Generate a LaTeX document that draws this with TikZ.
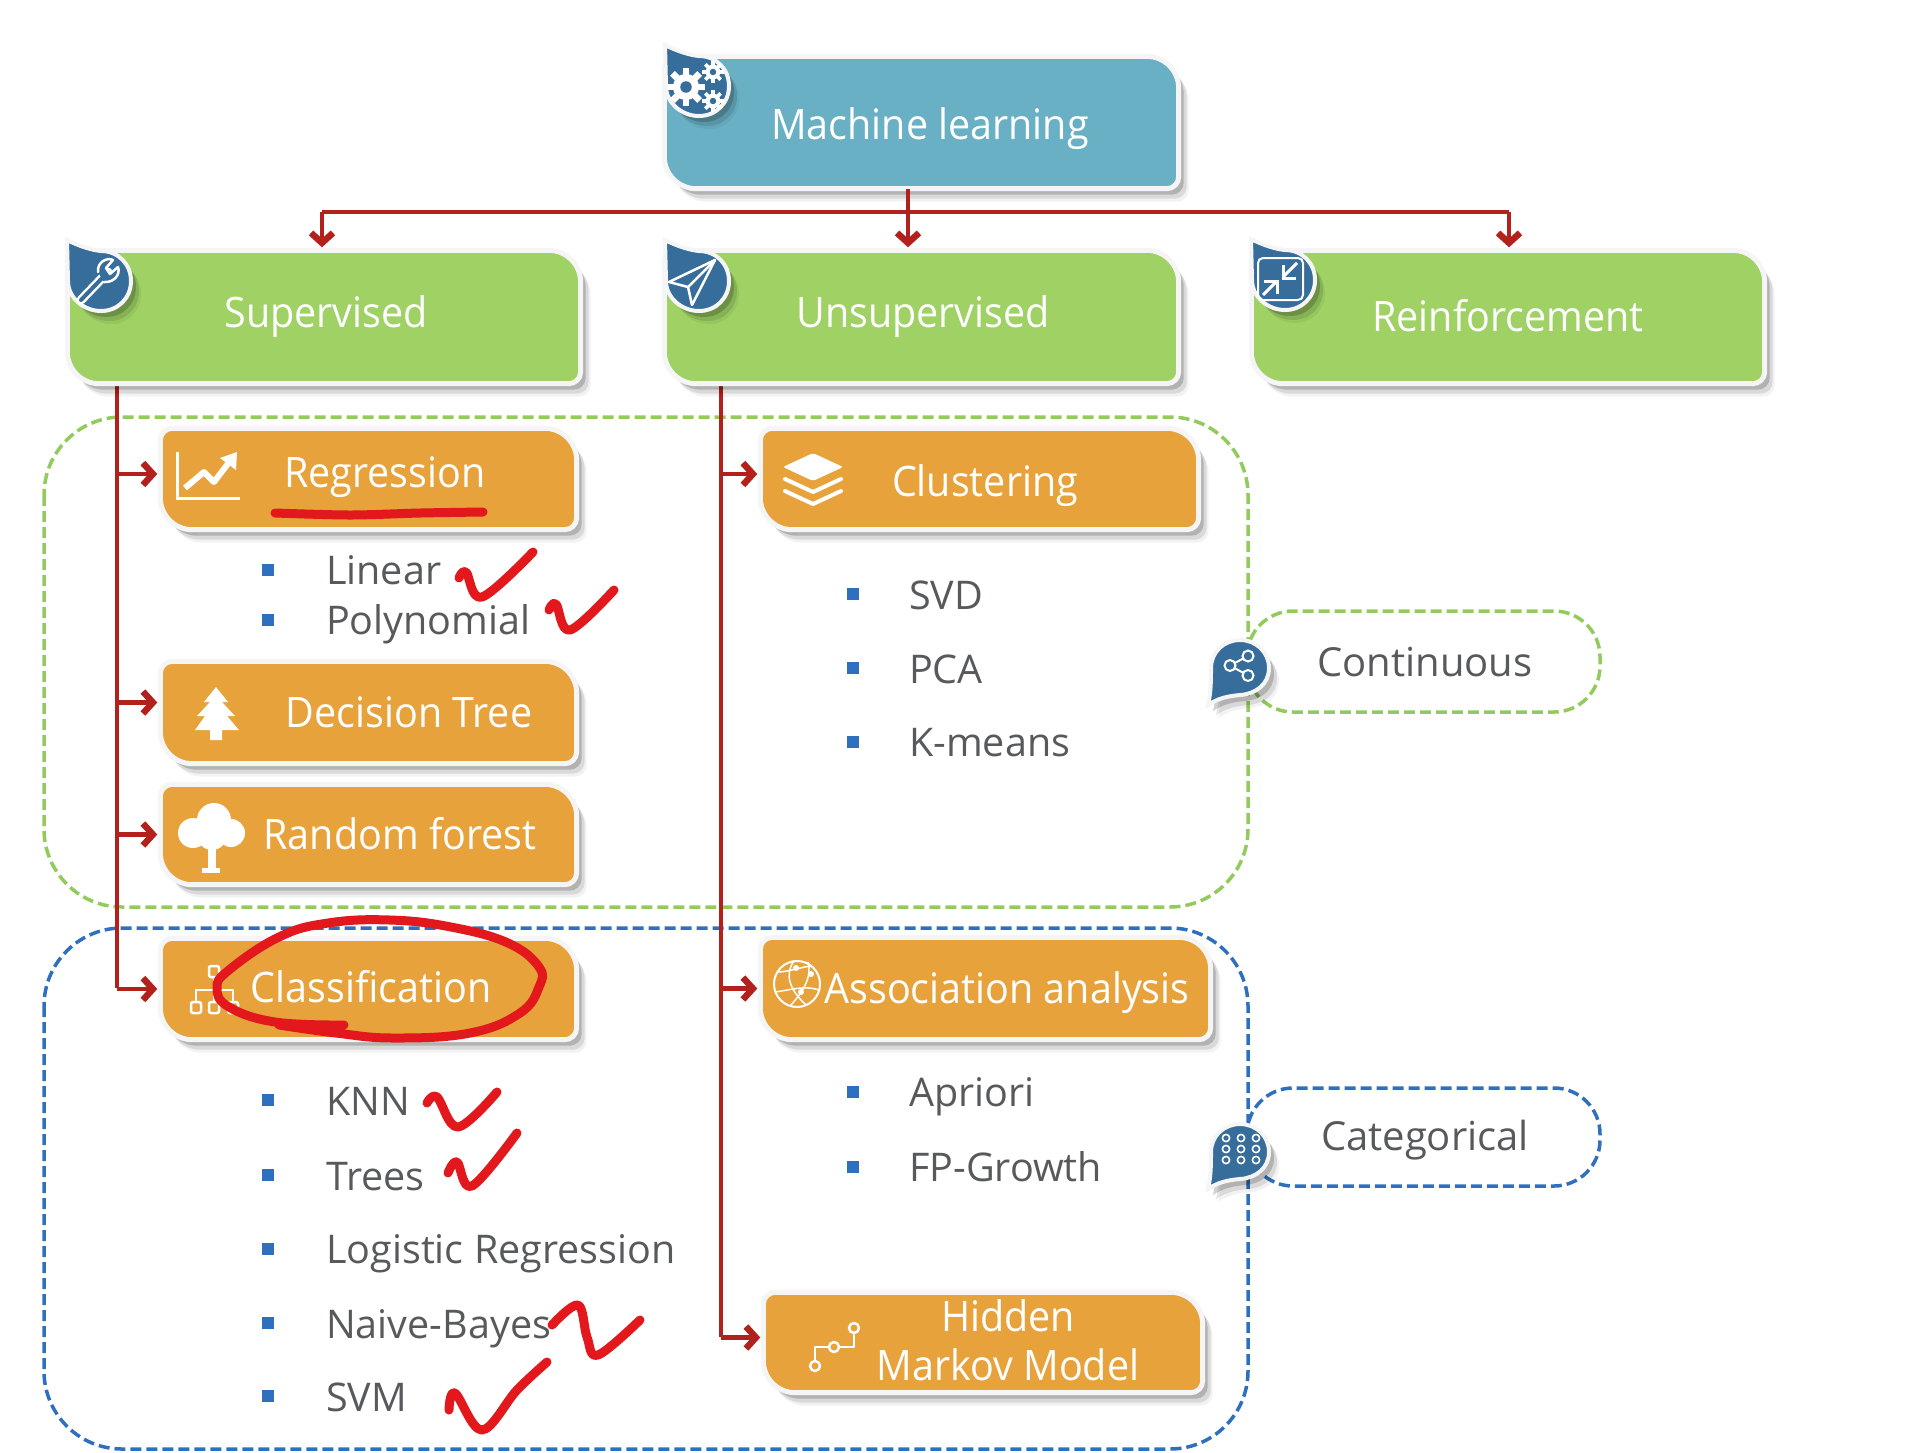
\documentclass[tikz,border=0pt]{standalone}
\usepackage{fontspec}
\setmainfont{Open Sans}
\newfontfamily\tightfont{Open Sans}[FakeStretch=0.94]
\usetikzlibrary{arrows.meta, fit, calc, shadows}

\definecolor{mlteal}{HTML}{69B0C4}
\definecolor{mlgreen}{HTML}{9FD164}
\definecolor{mlorange}{HTML}{E7A23B}
\definecolor{dropblue}{HTML}{366D9B}
\definecolor{linkred}{HTML}{B3211C}
\definecolor{handred}{HTML}{E2181C}
\definecolor{dashgreen}{HTML}{92CB5C}
\definecolor{dashblue}{HTML}{2F70BE}
\definecolor{itemgray}{HTML}{58595B}

% Box with two large and two small corners
\newcommand{\mlbox}[6]{
    \coordinate (#1-a) at (#2,#3);
    \coordinate (#1-b) at (#4,#5);
    \node[fit=(#1-a)(#1-b), inner sep=2.5pt] (#1) {};
    \path[softshadow, draw=white!96!black, line width=5pt, fill=#6]
        (#1.north) [rounded corners=32pt] -- (#1.north east)
        [rounded corners=12pt] -- (#1.south east)
        [rounded corners=32pt] -- (#1.south west)
        [rounded corners=12pt] -- (#1.north west) -- cycle;
}
% Drop with its point at the upper left
\newcommand{\topdrop}[3]{
    \node[inner sep=0pt, minimum size=64pt] (#1) at (#2,#3) {};
    \path[softshadow, draw=white!96!black, line width=4pt, fill=dropblue, shift={(#2,#3)}]
        (-34,-41) .. controls (-22,-35) and (-10,-31) .. (0,-30)
        .. controls (17,-30) and (30,-17) .. (30,0)
        .. controls (30,17) and (17,30) .. (0,30)
        .. controls (-17,30) and (-33,17) .. (-33,0) -- cycle;
}
% Drop with its point at the lower left
\newcommand{\sidedrop}[3]{
    \node[inner sep=0pt, minimum size=60pt] (#1) at (#2,#3) {};
    \path[softshadow, draw=white!96!black, line width=4pt, fill=dropblue, shift={(#2,#3)}]
        (-32,37) .. controls (-29,24) and (-29,12) .. (-29,0)
        .. controls (-29,-16) and (-16,-28) .. (0,-28)
        .. controls (16,-28) and (29,-16) .. (29,0)
        .. controls (29,16) and (16,26) .. (0,27)
        .. controls (-11,28) and (-22,30) .. (-32,37) -- cycle;
}
% Small gear
\newcommand{\gear}[3]{
    \foreach \a in {0,45,...,315}
        \draw[white, line width=#3*0.42pt] (#1,#2) ++(\a:#3*0.7) -- ++(\a:#3*0.5);
    \fill[white] (#1,#2) circle (#3*0.82pt);
    \fill[dropblue] (#1,#2) circle (#3*0.36pt);
}

\tikzset{
    % Orange and top-level captions
    boxcap/.style={font=\tightfont\fontsize{42}{46}\selectfont, text=white, anchor=base, inner sep=0pt},
    bigcap/.style={font=\tightfont\fontsize{42}{46}\selectfont, text=white, anchor=base, inner sep=0pt},
    % List entries
    item/.style={font=\fontsize{39.5}{44}\selectfont, text=itemgray, anchor=base west, inner sep=0pt},
    side/.style={font=\fontsize{40}{44}\selectfont, text=itemgray, anchor=base, inner sep=0pt},
    sq/.style={rectangle, fill=dashblue, minimum size=12pt, inner sep=0pt},
    % Dashed frames
    gframe/.style={draw=dashgreen, line width=3.5pt, dash pattern=on 11pt off 5pt, rounded corners=78pt},
    bframe/.style={draw=dashblue, line width=3.5pt, dash pattern=on 11pt off 5pt, rounded corners=78pt},
    gpill/.style={draw=dashgreen, line width=3.5pt, dash pattern=on 11pt off 5pt, rounded corners=46pt},
    bpill/.style={draw=dashblue, line width=3.5pt, dash pattern=on 11pt off 5pt, rounded corners=46pt},
    softshadow/.style={
        drop shadow={shadow xshift=10pt, shadow yshift=-13pt, fill=black, opacity=.05},
        drop shadow={shadow xshift=8pt, shadow yshift=-10pt, fill=black, opacity=.10},
        drop shadow={shadow xshift=5pt, shadow yshift=-6pt, fill=black, opacity=.18}
    },
    % Connectors
    link/.style={draw=linkred, line width=4.5pt},
    linkto/.style={link, -{Straight Barb[length=10pt, width=22pt, line width=6.5pt]}, shorten >=3pt},
    % Pen strokes
    pen/.style={draw=handred, line width=9pt, line cap=round, line join=round},
    % Icons
    iconline/.style={draw=white, line width=2.5pt, line cap=round, line join=round},
}

\begin{document}
\begin{tikzpicture}[x=1pt, y=-1pt]
\useasboundingbox (0,0) rectangle (1924,1452);

% ============================================================
% DASHED FRAMES
% ============================================================
\node[inner sep=0pt] (cont-a) at (44,417) {};
\node[inner sep=0pt] (cont-b) at (1248,907) {};
\node[inner sep=0pt] (cat-a) at (44,928) {};
\node[inner sep=0pt] (cat-b) at (1248,1449) {};
\draw[gframe] (cont-a) rectangle (cont-b);
\draw[bframe] (cat-a) rectangle (cat-b);

\node[side] (continuous) at (1425,676) {Continuous};
\node[side] (categorical) at (1425,1150) {Categorical};
\node[inner sep=0pt] (contp-a) at (1247,611) {};
\node[inner sep=0pt] (contp-b) at (1600,712) {};
\node[inner sep=0pt] (catp-a) at (1247,1088) {};
\node[inner sep=0pt] (catp-b) at (1600,1186) {};
\draw[gpill] (contp-a) rectangle (contp-b);
\draw[bpill] (catp-a) rectangle (catp-b);

% ============================================================
% TRUNK LINES
% ============================================================
\coordinate (bus-l) at (322,212);
\coordinate (bus-m) at (908,212);
\coordinate (bus-r) at (1509,212);
\coordinate (sup-t) at (117,384);
\coordinate (uns-t) at (721,384);
\coordinate (sup-e) at (117,988);
\coordinate (uns-e) at (721,1337);

\draw[link] (sup-t) -- (sup-e);
\draw[link] (uns-t) -- (uns-e);
\draw[link] (bus-l) -- (bus-r);

% ============================================================
% BOXES
% ============================================================
\mlbox{ml}{667}{59}{1176}{186}{mlteal}
\mlbox{sup}{70}{253}{578}{381}{mlgreen}
\mlbox{unsup}{667}{253}{1176}{381}{mlgreen}
\mlbox{reinf}{1254}{253}{1762}{381}{mlgreen}

\mlbox{regr}{163}{431}{574}{527}{mlorange}
\mlbox{dtree}{163}{664}{574}{761}{mlorange}
\mlbox{rforest}{163}{787}{574}{882}{mlorange}
\mlbox{classif}{163}{941}{574}{1037}{mlorange}
\mlbox{clust}{763}{431}{1196}{527}{mlorange}
\mlbox{assoc}{763}{940}{1208}{1037}{mlorange}
\mlbox{hmm}{766}{1295}{1200}{1390}{mlorange}

% ============================================================
% ARROWS
% ============================================================
\draw[linkto] (bus-l) -- (bus-l |- sup.north);
\draw[linkto] (bus-m |- ml.south) -- (bus-m |- unsup.north);
\draw[linkto] (bus-r) -- (bus-r |- reinf.north);

\coordinate (regr-in) at ([yshift=5pt]regr.west);
\coordinate (dtree-in) at ([yshift=10pt]dtree.west);
\coordinate (rforest-in) at (rforest.west);
\coordinate (classif-in) at (classif.west);
\coordinate (clust-in) at ([yshift=5pt]clust.west);
\coordinate (assoc-in) at (assoc.west);
\coordinate (hmm-in) at ([yshift=5pt]hmm.west);

\draw[linkto] (sup-t |- regr-in) -- (regr-in);
\draw[linkto] (sup-t |- dtree-in) -- (dtree-in);
\draw[linkto] (sup-t |- rforest-in) -- (rforest-in);
\draw[linkto] (sup-t |- classif-in) -- (classif-in);
\draw[linkto] (uns-t |- clust-in) -- (clust-in);
\draw[linkto] (uns-t |- assoc-in) -- (assoc-in);
\draw[linkto] (uns-t |- hmm-in) -- (hmm-in);

% ============================================================
% CAPTIONS
% ============================================================
\node[bigcap] (ml-t) at (930,139) {Machine learning};
\node[bigcap] (sup-c) at (326,327) {Supervised};
\node[bigcap] (unsup-c) at (923,327) {Unsupervised};
\node[bigcap] (reinf-c) at (1508,331) {Reinforcement};

\node[boxcap] (regr-c) at (385,487) {Regression};
\node[boxcap] (dtree-c) at (409,727) {Decision Tree};
\node[boxcap] (rforest-c) at (400,849) {Random forest};
\node[boxcap] (classif-c) at (371,1002) {Classification};
\node[boxcap] (clust-c) at (985,496) {Clustering};
\node[boxcap] (assoc-c) at (1007,1003) {Association analysis};
\node[boxcap] (hmm-c1) at (1008,1331) {Hidden};
\node[boxcap] (hmm-c2) at (1008,1380) {Markov Model};

% ============================================================
% LISTS
% ============================================================
\node[sq] (b-linear) at (268,570) {};
\node[item] (linear) at (326,584) {Linear};
\node[sq] (b-poly) at (268,620) {};
\node[item] (poly) at (326,634) {Polynomial};

\node[sq] (b-knn) at (268,1100) {};
\node[item] (knn) at (326,1115) {KNN};
\node[sq] (b-trees) at (268,1175) {};
\node[item] (trees) at (326,1190) {Trees};
\node[sq] (b-logit) at (268,1249) {};
\node[item] (logit) at (326,1263) {Logistic Regression};
\node[sq] (b-nb) at (268,1323) {};
\node[item] (nb) at (326,1338) {Naive-Bayes};
\node[sq] (b-svm) at (268,1396) {};
\node[item] (svm) at (326,1411) {SVM};

\node[sq] (b-svd) at (853,594) {};
\node[item] (svd) at (909,609) {SVD};
\node[sq] (b-pca) at (853,668) {};
\node[item] (pca) at (909,683) {PCA};
\node[sq] (b-kmeans) at (853,742) {};
\node[item] (kmeans) at (909,756) {K-means};

\node[sq] (b-apriori) at (853,1092) {};
\node[item] (apriori) at (909,1106) {Apriori};
\node[sq] (b-fp) at (853,1167) {};
\node[item] (fp) at (909,1181) {FP-Growth};

% ============================================================
% DROPS AND THEIR ICONS
% ============================================================
\topdrop{d-ml}{699}{86}
\gear{686}{87}{16}
\gear{713}{72}{9}
\gear{713}{101}{9}

\topdrop{d-sup}{101}{281}
\draw[white, line width=9pt, line cap=round] (81,300) -- (108,272);
\draw[dropblue, line width=4pt, line cap=round] (81,300) -- (108,272);
\draw[iconline, fill=dropblue] (98,272) .. controls (97,262) and (107,257) .. (113,260)
    -- (106,268) -- (110,274) -- (118,267) .. controls (121,275) and (113,283) .. (104,282);

\topdrop{d-uns}{699}{281}
\draw[iconline] (715,260) -- (669,282) -- (688,287) -- (692,305) -- cycle;
\draw[iconline] (715,260) -- (688,287);

\topdrop{d-rei}{1285}{280}
\draw[white, line width=2pt, rounded corners=5pt] (1258,258) rectangle (1303,300);
\draw[white, line width=3pt] (1297,263) -- (1283,277);
\draw[white, line width=3pt] (1283,265) -- (1283,278) -- (1296,278);
\draw[white, line width=3pt] (1263,295) -- (1277,281);
\draw[white, line width=3pt] (1264,281) -- (1277,281) -- (1277,294);

\sidedrop{d-con}{1240}{668}
\draw[white, line width=2pt] (1248,656) -- (1230,665.5) -- (1248,675.5);
\draw[white, line width=2pt, fill=dropblue] (1248,656) circle (5.5pt);
\draw[white, line width=2pt, fill=dropblue] (1230,665.5) circle (5.5pt);
\draw[white, line width=2pt, fill=dropblue] (1248,675.5) circle (5.5pt);

\sidedrop{d-cat}{1240}{1152}
\foreach \gx in {1226,1241,1256}
    \foreach \gy in {1138,1149,1160}
        \draw[white, line width=1.6pt] (\gx,\gy) circle (3.6pt);

% ============================================================
% ICONS ON THE ORANGE BOXES
% ============================================================
% chart
\draw[white, line width=3pt] (177,452) -- (177,498) -- (240,498);
\draw[white, line width=6pt, line join=round] (185,488) -- (204,472) -- (214,482) -- (230,461);
\fill[white] (220,458) -- (237,452) -- (236,470) -- cycle;

% stack
\fill[white, rounded corners=2pt] (813,453) -- (843,467) -- (813,481) -- (783,467) -- cycle;
\draw[white, line width=4pt, line cap=round, line join=round] (785,479) -- (813,492) -- (841,479);
\draw[white, line width=4pt, line cap=round, line join=round] (785,491) -- (813,504) -- (841,491);

% pine
\fill[white] (216,687) -- (228,702) -- (222,702) -- (235,716) -- (227,716) -- (239,730)
    -- (222,730) -- (222,740) -- (210,740) -- (210,730) -- (195,730) -- (205,716)
    -- (197,716) -- (210,702) -- (204,702) -- cycle;

% leafy tree
\fill[white] (214,820) circle (17pt);
\fill[white] (193,833) circle (15pt);
\fill[white] (231,833) circle (14pt);
\fill[white] (212,835) circle (15pt);
\fill[white] (208,845) rectangle (216,868);
\fill[white] (202,868) rectangle (220,873);

% hierarchy
\draw[iconline, rounded corners=2pt] (209,966) rectangle (219,977);
\draw[iconline, rounded corners=2pt] (191,1002) rectangle (201,1013);
\draw[iconline, rounded corners=2pt] (209,1002) rectangle (219,1013);
\draw[iconline, rounded corners=2pt] (228,1002) rectangle (238,1013);
\draw[iconline] (214,977) -- (214,1002);
\draw[iconline] (196,1002) -- (196,990) -- (233,990) -- (233,1002);

% globe
\draw[white, line width=2pt] (797,984) circle (23pt);
\draw[white, line width=1.5pt] (778,972) .. controls (788,972) and (805,966) .. (812,966);
\draw[white, line width=1.5pt] (794,961) .. controls (784,975) and (790,990) .. (806,1005);
\draw[white, line width=1.5pt] (775,992) .. controls (790,990) and (805,985) .. (819,990);
\draw[white, line width=1.5pt] (808,962) .. controls (812,975) and (805,990) .. (790,1006);
\fill[white] (796,968) circle (3pt);
\fill[white] (811,974) circle (3pt);
\fill[white] (801,992) circle (3pt);

% route
\draw[iconline] (854,1335) -- (854,1347) -- (839,1347);
\draw[iconline] (829,1347) -- (815,1347) -- (815,1361);
\draw[iconline] (854,1328) circle (5pt);
\draw[iconline] (834,1347) circle (5pt);
\draw[iconline] (815,1366) circle (5pt);

% ============================================================
% PEN MARKS
% ============================================================
\draw[pen] plot[smooth] coordinates {(275,513) (350,515) (420,513) (483,512)};
\draw[pen] plot[smooth, tension=.6] coordinates {(459,578) (466,572) (482,597) (533,552)};
\draw[pen] plot[smooth, tension=.6] coordinates {(549,610) (556,604) (570,630) (614,590)};
\draw[pen] plot[smooth, tension=.6] coordinates {(427,1103) (437,1097) (458,1127) (497,1092)};
\draw[pen] plot[smooth, tension=.6] coordinates {(448,1173) (457,1162) (472,1186) (517,1133)};
\draw[pen] plot[smooth, tension=.6] coordinates {(552,1325) (578,1305) (587,1337) (598,1355) (640,1320)};
\draw[pen] plot[smooth, tension=.6] coordinates {(449,1410) (455,1393) (482,1430) (517,1390) (547,1362)};
\draw[pen] plot[smooth, tension=.7] coordinates {(344,1025) (275,1022) (229,1007) (217,988)
    (229,970) (279,937) (328,923) (390,920) (451,927) (508,943) (539,967) (539,987)
    (520,1013) (470,1033) (394,1038) (336,1033) (279,1025)};

\end{tikzpicture}
\end{document}
